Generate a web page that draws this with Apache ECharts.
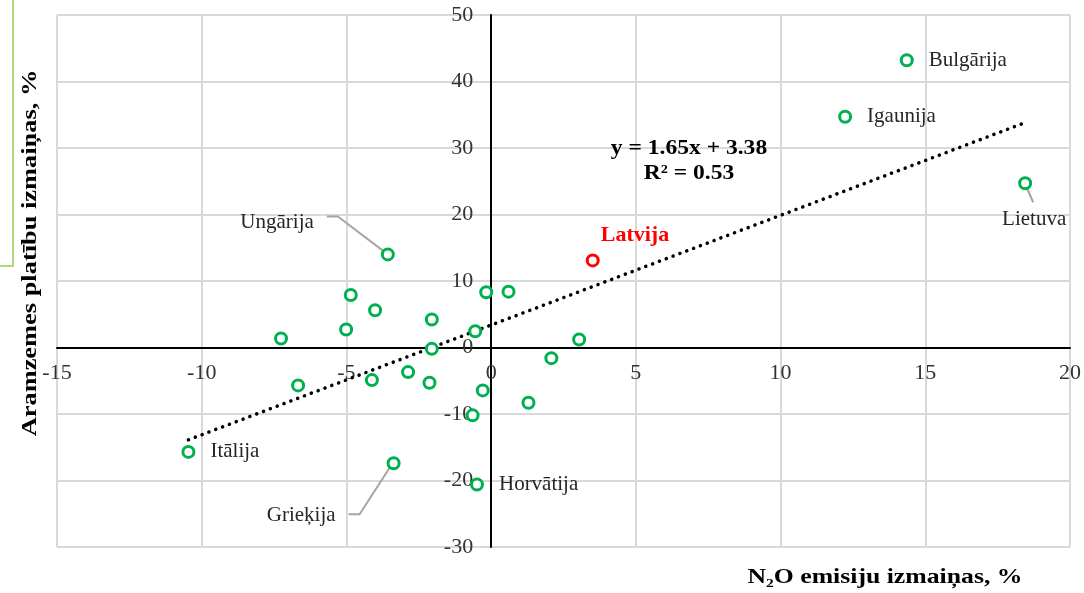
<!DOCTYPE html>
<html>
<head>
<meta charset="utf-8">
<script src="https://cdn.jsdelivr.net/npm/echarts@6/dist/echarts.min.js"></script>
<style>
  html, body { margin: 0; padding: 0; background: #ffffff; }
  #chart { width: 1084px; height: 593px; }
</style>
</head>
<body>
<div id="chart"></div>
<script>
// Country names (blank where the point carries no label)
const countries = [
  'Bulgārija', 'Igaunija', 'Lietuva', 'Latvija', 'Ungārija',
  '', '', '', '', '', '', '', '', '', '', '', '', '', '',
  'Horvātija', '', '', '', '', 'Itālija', 'Grieķija'
];
// N2O emission change, %
const n2oChange = [
  14.36, 12.23, 18.45, 3.51, -3.57,
  -4.85, -4.01, -5.01, -7.26, -2.05, -2.05, -0.55, -0.17, 0.60, 3.04, 2.08, 1.29, -0.29, -0.64,
  -0.49, -2.87, -2.13, -4.12, -6.67, -10.46, -3.37
];
// Arable land area change, %
const arableChange = [
  43.2, 34.7, 24.7, 13.1, 14.0,
  7.9, 5.6, 2.7, 1.35, 4.2, -0.2, 2.45, 8.3, 8.4, 1.2, -1.6, -8.3, -6.45, -10.2,
  -20.6, -3.7, -5.3, -4.9, -5.7, -15.7, -17.4
];
// Axis ranges: [min, max, step]
const xRange = [-15, 20, 5];
const yRange = [-30, 50, 10];
// Linear trend
const trendSlope = 1.65;
const trendIntercept = 3.38;
const trendR2 = 0.53;
const highlighted = 'Latvija';

const FONT = "'Liberation Serif', 'Times New Roman', serif";
const GREEN = '#00b050';
const RED = '#ff0000';
const W = 1084, H = 593;
const GRID = { left: 57, right: 14, top: 15, bottom: 46 };

// Label placement per named point
const labelPlacement = {
  'Bulgārija': { position: 'right', distance: 15 },
  'Igaunija':  { position: 'right', distance: 15 },
  'Itālija':   { position: 'right', distance: 15 },
  'Horvātija': { position: 'right', distance: 15 },
  'Lietuva':   { position: 'bottom', distance: 19, offset: [9, 0] },
  'Latvija':   { position: 'right', distance: 1, offset: [0, -25] },
  'Ungārija':  { position: 'left', distance: 67, offset: [0, -32] },
  'Grieķija':  { position: 'left', distance: 51, offset: [0, 52] }
};
// Leader lines, pixel offsets from the point centre
const leaderOffsets = {
  'Ungārija': [[-61, -38], [-50, -38], [-4, -3]],
  'Grieķija': [[-45, 51], [-34, 51], [-3, 3]],
  'Lietuva':  [[1, 3], [8, 19]]
};

const points = n2oChange.map((x, i) => {
  const name = countries[i];
  const isHi = name === highlighted;
  const item = {
    name: name,
    value: [x, arableChange[i]],
    itemStyle: { borderColor: isHi ? RED : GREEN }
  };
  if (name && labelPlacement[name]) {
    const p = labelPlacement[name];
    item.label = {
      show: true,
      formatter: '{b}',
      position: p.position,
      distance: p.distance,
      offset: p.offset || [0, 0],
      fontFamily: FONT,
      fontSize: isHi ? 22 : 21,
      fontWeight: isHi ? 'bold' : 'normal',
      color: isHi ? RED : '#262626'
    };
  }
  return item;
});

const xMinData = Math.min(...n2oChange);
const xMaxData = Math.max(...n2oChange);
const trendData = [
  [xMinData, trendSlope * xMinData + trendIntercept],
  [xMaxData, trendSlope * xMaxData + trendIntercept]
];

// Shift each axis so it crosses the other one at zero
const plotW = W - GRID.left - GRID.right;
const plotH = H - GRID.top - GRID.bottom;
const xAxisShift = -plotH * (0 - yRange[0]) / (yRange[1] - yRange[0]);
const yAxisShift = -plotW * (0 - xRange[0]) / (xRange[1] - xRange[0]);

const chart = echarts.init(document.getElementById('chart'), null, { renderer: 'canvas' });

const axisCommon = {
  type: 'value',
  axisLine: { show: true, onZero: false, lineStyle: { color: '#000000', width: 2 } },
  axisTick: { show: false },
  splitLine: { show: true, lineStyle: { color: '#d9d9d9', width: 2 } },
  axisLabel: {
    fontFamily: FONT, fontSize: 22, color: '#333333',
    showMinLabel: true, showMaxLabel: true, hideOverlap: false
  }
};

const textStyle = (size, weight) => ({
  fontFamily: FONT, fontSize: size, fontWeight: weight, fill: '#000000',
  align: 'center', verticalAlign: 'middle'
});

chart.setOption({
  animation: false,
  backgroundColor: '#ffffff',
  grid: Object.assign({ containLabel: false }, GRID),
  xAxis: Object.assign({}, axisCommon, {
    position: 'bottom',
    offset: xAxisShift,
    min: xRange[0], max: xRange[1], interval: xRange[2],
    axisLabel: Object.assign({}, axisCommon.axisLabel, { margin: 15 })
  }),
  yAxis: Object.assign({}, axisCommon, {
    position: 'left',
    offset: yAxisShift,
    min: yRange[0], max: yRange[1], interval: yRange[2],
    axisLabel: Object.assign({}, axisCommon.axisLabel, { margin: 18 })
  }),
  series: [
    {
      type: 'line',
      data: trendData,
      symbol: 'none',
      silent: true,
      z: 3,
      lineStyle: { color: '#000000', width: 3.5, type: [0.1, 7.2], cap: 'round' }
    },
    {
      type: 'scatter',
      data: points,
      symbol: 'circle',
      symbolSize: 11,
      z: 5,
      itemStyle: { color: '#ffffff', borderWidth: 3, opacity: 1 }
    }
  ],
  graphic: [
    {
      type: 'polyline',
      shape: { points: [[13, 0], [13, 266], [0, 266]] },
      style: { stroke: '#92d050', lineWidth: 1.5, fill: null },
      silent: true
    },
    {
      type: 'text',
      x: 30, y: 253,
      rotation: Math.PI / 2,
      scaleX: 1.2,
      style: Object.assign({ text: 'Aramzemes platību izmaiņas, %' }, textStyle(22, 'bold'))
    },
    {
      type: 'text',
      x: 885, y: 577,
      scaleX: 1.17,
      style: Object.assign({ text: 'N₂O emisiju izmaiņas, %' }, textStyle(22, 'bold'))
    },
    {
      type: 'text',
      x: 689, y: 148,
      z: 10,
      scaleX: 1.07,
      style: Object.assign({
        text: 'y = ' + trendSlope.toFixed(2) + 'x + ' + trendIntercept.toFixed(2)
      }, textStyle(22, 'bold'))
    },
    {
      type: 'text',
      x: 689, y: 173,
      z: 10,
      scaleX: 1.07,
      style: Object.assign({ text: 'R² = ' + trendR2.toFixed(2) }, textStyle(22, 'bold'))
    }
  ]
});

// Leader lines from labels to their points
const leaderGraphics = [];
countries.forEach((name, i) => {
  const offs = leaderOffsets[name];
  if (!offs) return;
  const c = chart.convertToPixel({ seriesIndex: 1 }, [n2oChange[i], arableChange[i]]);
  leaderGraphics.push({
    type: 'polyline',
    z: 1,
    silent: true,
    shape: { points: offs.map(o => [c[0] + o[0], c[1] + o[1]]) },
    style: { stroke: '#a6a6a6', lineWidth: 2, fill: null }
  });
});
const opt = chart.getOption();
chart.setOption({ graphic: opt.graphic[0].elements.map(() => ({})).concat(leaderGraphics) });
</script>
</body>
</html>
